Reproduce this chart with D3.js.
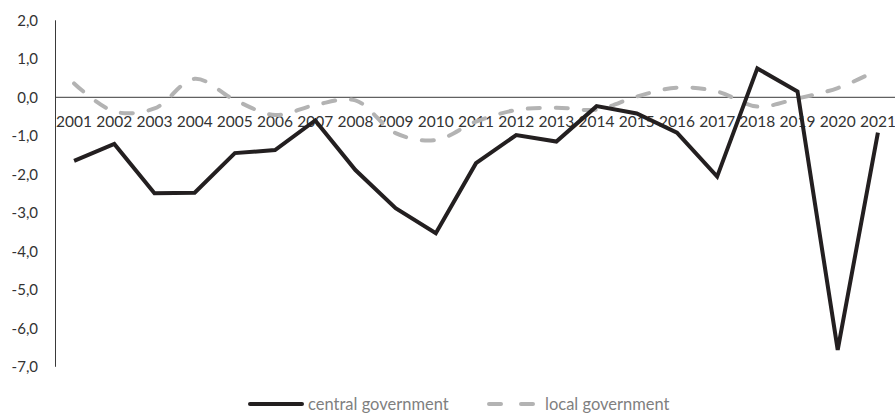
<!DOCTYPE html>
<html>
<head>
<meta charset="utf-8">
<script src="https://cdn.jsdelivr.net/npm/d3@7"></script>
<style>
  body { margin: 0; background: #fff; }
  text { font-family: Lato, "Open Sans", sans-serif; }
</style>
</head>
<body>
<div id="chart"></div>
<script>
// years on the x axis
const years = ["2001", "2002", "2003", "2004", "2005", "2006", "2007", "2008", "2009", "2010",
               "2011", "2012", "2013", "2014", "2015", "2016", "2017", "2018", "2019", "2020", "2021"];
// balance, central government
const central = [-1.65, -1.21, -2.49, -2.48, -1.45, -1.37, -0.6, -1.89, -2.88, -3.53,
                 -1.71, -0.98, -1.15, -0.23, -0.42, -0.92, -2.06, 0.75, 0.15, -6.56, -0.92];
// balance, local government
const local = [0.36, -0.37, -0.29, 0.48, -0.07, -0.46, -0.2, -0.08, -0.93, -1.11,
               -0.63, -0.33, -0.27, -0.32, 0.02, 0.25, 0.15, -0.24, -0.03, 0.24, 0.71];
const yTicks = [2, 1, 0, -1, -2, -3, -4, -5, -6, -7];

const width = 895, height = 413;

const svg = d3.select("#chart")
    .append("svg")
    .attr("width", width)
    .attr("height", height);

const x = d3.scalePoint()
    .domain(years)
    .range([54, 898])
    .padding(0.5);

const y = d3.scaleLinear()
    .domain([-7, 2])
    .range([366.8, 20.3]);

const fmt = d => d3.format(".1f")(d).replace(".", ",").replace("−", "-");

// y axis line and labels
svg.append("line")
    .attr("x1", 55.5).attr("x2", 55.5)
    .attr("y1", y(2)).attr("y2", y(-7))
    .attr("stroke", "#3a3a3a")
    .attr("stroke-width", 1);

svg.selectAll(".ylab")
    .data(yTicks)
    .enter()
    .append("text")
        .attr("class", "ylab")
        .attr("x", 38)
        .attr("y", d => y(d) + 5.5)
        .attr("text-anchor", "end")
        .style("font-size", "15px")
        .attr("fill", "#333")
        .text(fmt);

// zero line
svg.append("line")
    .attr("x1", 55).attr("x2", 895)
    .attr("y1", y(0)).attr("y2", y(0))
    .attr("stroke", "#3a3a3a")
    .attr("stroke-width", 1);

// year labels just below zero line
svg.selectAll(".xlab")
    .data(years)
    .enter()
    .append("text")
        .attr("class", "xlab")
        .attr("x", d => x(d))
        .attr("y", y(0) + 29.5)
        .attr("text-anchor", "middle")
        .style("font-size", "15.5px")
        .attr("fill", "#333")
        .text(d => d);

// local government, smoothed dashed line
const smooth = d3.line()
    .x((d, i) => x(years[i]))
    .y(d => y(d))
    .curve(d3.curveCatmullRom);

svg.append("path")
    .datum(local)
    .attr("d", smooth)
    .attr("fill", "none")
    .attr("stroke", "#b3b3b3")
    .attr("stroke-width", 4)
    .attr("stroke-linecap", "round")
    .attr("stroke-dasharray", "12,16");

// central government
const straight = d3.line()
    .x((d, i) => x(years[i]))
    .y(d => y(d));

svg.append("path")
    .datum(central)
    .attr("d", straight)
    .attr("fill", "none")
    .attr("stroke", "#231f20")
    .attr("stroke-width", 4)
    .attr("stroke-linejoin", "miter");

// legend, sitting on the bottom edge
const ly = 404;
svg.append("line")
    .attr("x1", 250).attr("x2", 302)
    .attr("y1", ly).attr("y2", ly)
    .attr("stroke", "#231f20")
    .attr("stroke-width", 4)
    .attr("stroke-linecap", "round");
svg.append("text")
    .attr("x", 308).attr("y", 409.5)
    .style("font-size", "16.5px")
    .attr("fill", "#7f7f7f")
    .text("central government");

svg.append("line")
    .attr("x1", 489).attr("x2", 533)
    .attr("y1", ly).attr("y2", ly)
    .attr("stroke", "#b3b3b3")
    .attr("stroke-width", 4)
    .attr("stroke-linecap", "round")
    .attr("stroke-dasharray", "12,20");
svg.append("text")
    .attr("x", 545).attr("y", 409.5)
    .style("font-size", "16.5px")
    .attr("fill", "#7f7f7f")
    .text("local government");
</script>
</body>
</html>
